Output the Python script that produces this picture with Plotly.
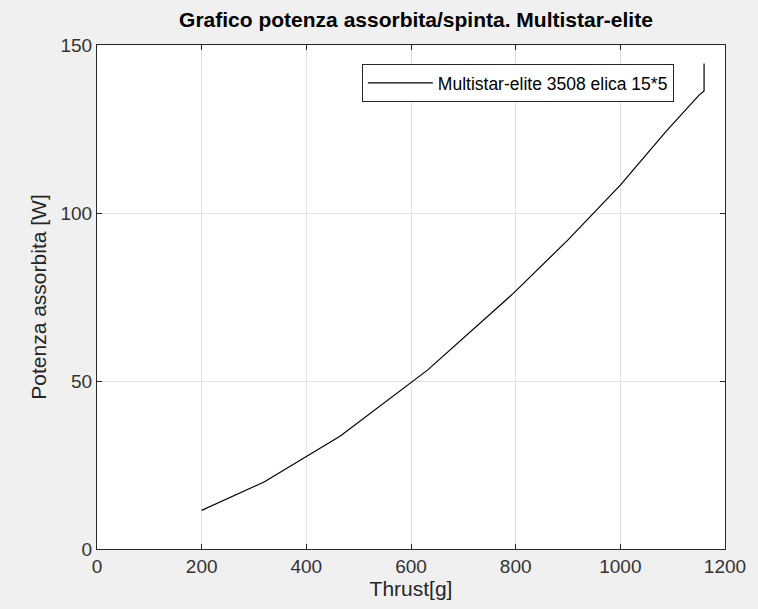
import plotly.graph_objects as go

thrust_g = [200, 320, 465, 632, 795, 900, 1000, 1087, 1150, 1160, 1160]
power_w = [11.5, 20.0, 33.6, 53.3, 76.0, 92.0, 108.3, 124.2, 135.0, 136.3, 144.5]
series_name = "Multistar-elite 3508 elica 15*5"
x_ticks = [0, 200, 400, 600, 800, 1000, 1200]
y_ticks = [0, 50, 100, 150]

FONT = "Liberation Sans, Arial, Helvetica, sans-serif"
AX = "#262626"

fig = go.Figure()
fig.add_trace(go.Scatter(x=thrust_g, y=power_w, mode="lines", name=series_name,
                         line=dict(color="black", width=1.2)))

axis_common = dict(showgrid=True, gridcolor="#e3e3e3", gridwidth=1,
                   showline=True, linecolor=AX, linewidth=1, mirror="ticks",
                   ticks="inside", ticklen=5, tickcolor=AX, zeroline=False,
                   tickfont=dict(family=FONT, size=19, color="#333333"))

fig.update_layout(
    width=758, height=609,
    margin=dict(l=97, r=23, t=45, b=60),
    paper_bgcolor="#f0f0f0", plot_bgcolor="white",
    title=dict(text="<b>Grafico potenza assorbita/spinta. Multistar-elite</b>",
               x=(97 + 735) / 2 / 758, xanchor="center", y=1 - 20 / 609, yanchor="middle",
               font=dict(family=FONT, size=21, color="black")),
    xaxis=dict(range=[0, 1200], tickvals=x_ticks,
               title=dict(text="Thrust[g]", font=dict(family=FONT, size=21, color="#262626"), standoff=4),
               **axis_common),
    yaxis=dict(range=[0, 150], tickvals=y_ticks,
               title=dict(text="Potenza assorbita [W]", font=dict(family=FONT, size=21, color="#262626"), standoff=8),
               **axis_common),
    showlegend=True,
    legend=dict(x=(683 - 97) / 638, xanchor="right", y=(549 - 64) / 504, yanchor="top",
                bgcolor="white", bordercolor=AX, borderwidth=1,
                font=dict(family=FONT, size=17.5, color="black"),
                itemwidth=65, tracegroupgap=0),
)

fig.write_html("out.html")
